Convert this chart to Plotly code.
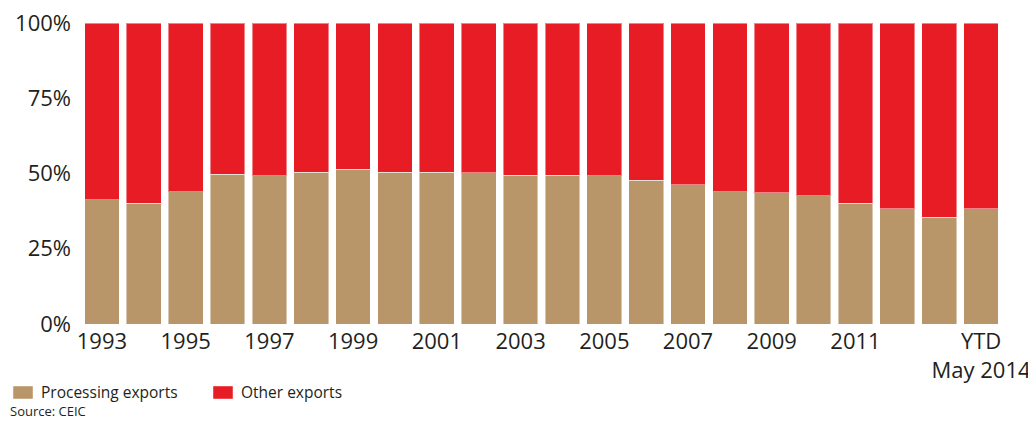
import plotly.graph_objects as go

categories = [str(y) for y in range(1993, 2014)] + ["YTD<br>May 2014"]
processing = [41.3, 40.1, 44.0, 49.7, 49.2, 50.5, 51.4, 50.5, 50.4, 50.2, 49.4,
              49.5, 49.2, 47.8, 46.2, 44.0, 43.6, 42.6, 40.2, 38.3, 35.4, 38.3]
other = [100 - p for p in processing]
tick_labels = [c if (i % 2 == 0 and i < 20) else "" for i, c in enumerate(categories)]
tick_labels[-1] = categories[-1]
y_ticks = [0, 25, 50, 75, 100]
y_labels = ["0%", "25%", "50%", "75%", "100%"]
series_names = ["Processing exports", "Other exports"]

TAN = "#B8966A"
RED = "#E71C24"
FONT = "Open Sans"
OFF = 8  # page body margin
W, H = 1036 - OFF, 421 - OFF
# plot area in window pixels: x 81..1002, y 23..324
L, T = 81 - OFF, 23 - OFF
R, B = W - (1002 - OFF), H - (324 - OFF)
PW, PH = W - L - R, H - T - B


def px_x(px):
    return (px - OFF - L) / PW


def px_y(py):
    return (H - B - (py - OFF)) / PH


fig = go.Figure()
fig.add_trace(go.Bar(x=categories, y=processing, name=series_names[0],
                     marker=dict(color=TAN, line=dict(color="rgba(255,255,255,0.45)", width=1))))
fig.add_trace(go.Bar(x=categories, y=other, name=series_names[1],
                     marker=dict(color=RED, line=dict(color="rgba(255,255,255,0.45)", width=1))))

fig.update_layout(
    barmode="stack",
    bargap=0.17,
    width=W, height=H,
    margin=dict(l=L, r=R, t=T, b=B),
    paper_bgcolor="white", plot_bgcolor="white",
    font=dict(family=FONT, color="#231F20", size=22),
    showlegend=False,
    xaxis=dict(tickmode="array", tickvals=categories, ticktext=tick_labels,
               showgrid=False, showline=False, zeroline=False, ticks="",
               ticklabelstandoff=2, tickangle=0, automargin=False,
               ticklabeloverflow="allow"),
    yaxis=dict(range=[0, 100], tickmode="array", tickvals=y_ticks, ticktext=y_labels,
               showgrid=False, showline=False, zeroline=False, ticks="",
               ticklabelstandoff=9, automargin=False, ticklabeloverflow="allow"),
)

# custom legend
for (x0, col, name) in [(13, TAN, series_names[0]), (213, RED, series_names[1])]:
    fig.add_shape(type="rect", xref="paper", yref="paper",
                  x0=px_x(x0), x1=px_x(x0 + 20), y0=px_y(399), y1=px_y(386),
                  fillcolor=col, line=dict(color="rgba(255,255,255,0.45)", width=1))
    fig.add_annotation(text=name, xref="paper", yref="paper", x=px_x(x0 + 27), xanchor="left",
                       y=px_y(391.5), yanchor="middle", showarrow=False, borderpad=0,
                       font=dict(size=15.5))

fig.add_annotation(text="Source: CEIC", xref="paper", yref="paper", x=px_x(9), xanchor="left",
                   y=px_y(421), yanchor="bottom", showarrow=False, borderpad=0,
                   font=dict(size=13))
fig.write_html("out.html")
